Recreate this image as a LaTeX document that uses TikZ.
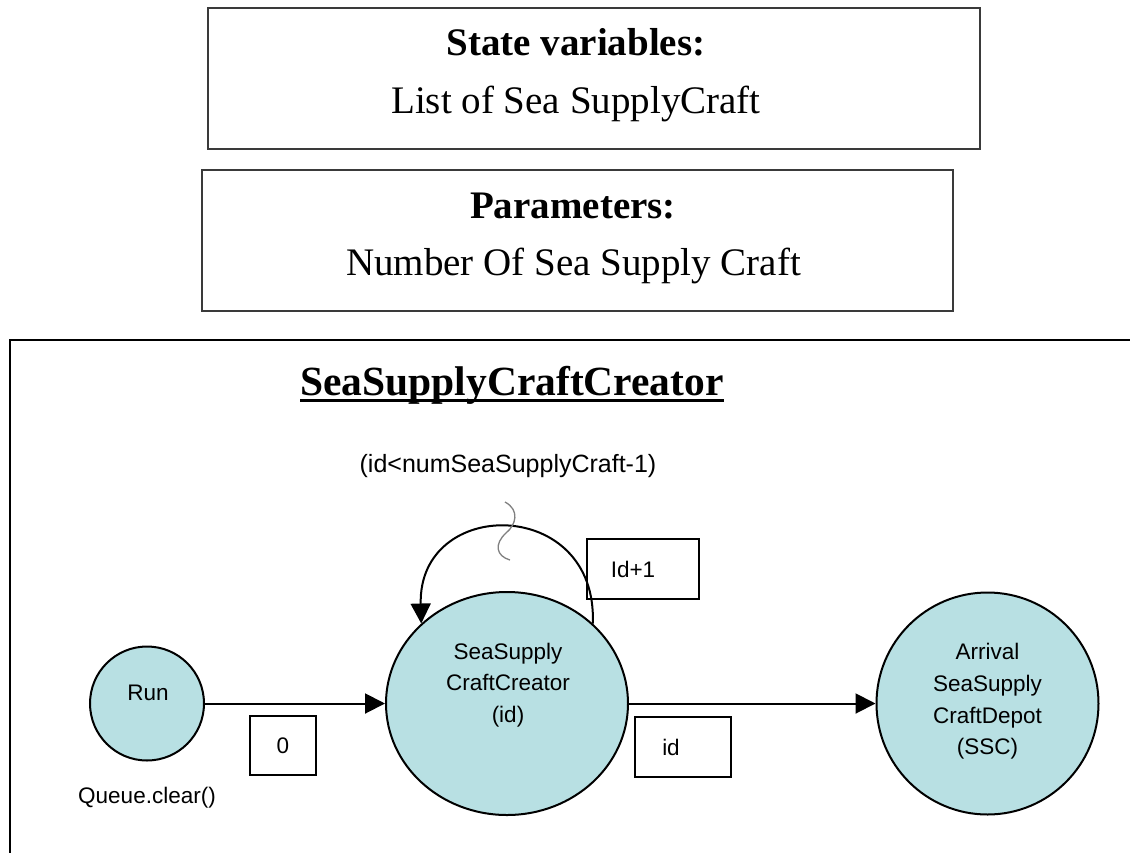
\documentclass[tikz,border=0pt]{standalone}
\usepackage{fontspec}
\setmainfont{Liberation Serif}
\newfontfamily\arial{Liberation Sans}
\usetikzlibrary{arrows.meta,shapes.geometric}
\definecolor{statefill}{HTML}{B8E0E3}
\definecolor{boxline}{HTML}{3A3A3A}
\begin{document}
\begin{tikzpicture}[x=1pt,y=-1pt,
  infobox/.style={draw=boxline,line width=1.6pt,inner sep=0pt},
  headtxt/.style={font=\bfseries\fontsize{39}{39}\selectfont,anchor=base,inner sep=0pt},
  bodytxt/.style={font=\fontsize{39}{39}\selectfont,anchor=base,inner sep=0pt},
  state/.style={draw=black,fill=statefill,line width=2pt,inner sep=0pt},
  circ/.style={state,circle},
  ell/.style={state,ellipse},
  lbl/.style={font=\arial\fontsize{22.5}{31.7}\selectfont,align=center,inner sep=0pt},
  edgebox/.style={draw=black,line width=2pt,inner sep=0pt,font=\arial\fontsize{22.5}{27}\selectfont},
  conn/.style={line width=2pt,-{Triangle[length=20pt,width=20pt]}},
  squig/.style={draw=gray,line width=1.3pt},
  frameline/.style={line width=2.5pt}
]
\path[use as bounding box] (0,0) rectangle (1130,852);
\fill[white] (0,0) rectangle (1130,852);
\clip (0,0) rectangle (1130,852);

% top boxes
\node[infobox,minimum width=772pt,minimum height=141pt] (sv) at (594,78.5) {};
\node[headtxt] (svh) at (576,55) {State variables:};
\node[bodytxt] (svb) at (576,113) {List of Sea SupplyCraft};
\node[infobox,minimum width=751pt,minimum height=141pt] (pm) at (577.5,240.5) {};
\node[headtxt] (pmh) at (573,218) {Parameters:};
\node[bodytxt] (pmb) at (573.5,275) {Number Of Sea Supply Craft};

% frame
\draw[frameline] (10,880) -- (10,340) -- (1160,340);

% title
\node[font=\bfseries\fontsize{41.5}{41.5}\selectfont,anchor=base,inner sep=0pt] (title) at (512,395) {SeaSupplyCraftCreator};
\draw[line width=3pt] ([yshift=-5pt]title.base west) -- ([yshift=-5pt]title.base east);

% states
\node[circ,minimum size=114pt] (run) at (147,703.5) {};
\node[lbl,anchor=base] (runt) at (148,700) {Run};
\node[lbl,anchor=base] (q) at (147,803) {Queue.clear()};

\node[ell,minimum width=242pt,minimum height=223pt] (ssc) at (507,703.5) {};
\node[lbl] (ssct) at (508,685) {SeaSupply\\CraftCreator\\(id)};

\node[circ,minimum size=222pt] (arr) at (987.5,703.5) {};
\node[lbl] (arrt) at (987.5,701.5) {Arrival\\SeaSupply\\CraftDepot\\(SSC)};

% connectors
\draw[conn] (run) -- (ssc);
\draw[conn] (ssc) -- (arr);
\draw[conn] (ssc.43) .. controls (598,496) and (418,496) .. (ssc.137);
\draw[squig] (505,502) .. controls (520,510) and (516,525) .. (506,533) .. controls (494,544) and (496,556) .. (510,560);

% condition
\node[font=\arial\fontsize{25}{25}\selectfont,anchor=base,inner sep=0pt] (cond) at (508,472) {(id<numSeaSupplyCraft-1)};

% edge label boxes
\node[edgebox,minimum width=66pt,minimum height=59pt] (b0) at (283,745.5) {0};
\node[edgebox,minimum width=96pt,minimum height=60pt] (bid) at (683,747) {id\hspace*{24pt}};
\node[edgebox,minimum width=112pt,minimum height=60pt] (binc) at (643,569) {Id+1\hspace*{20pt}};
\end{tikzpicture}
\end{document}
